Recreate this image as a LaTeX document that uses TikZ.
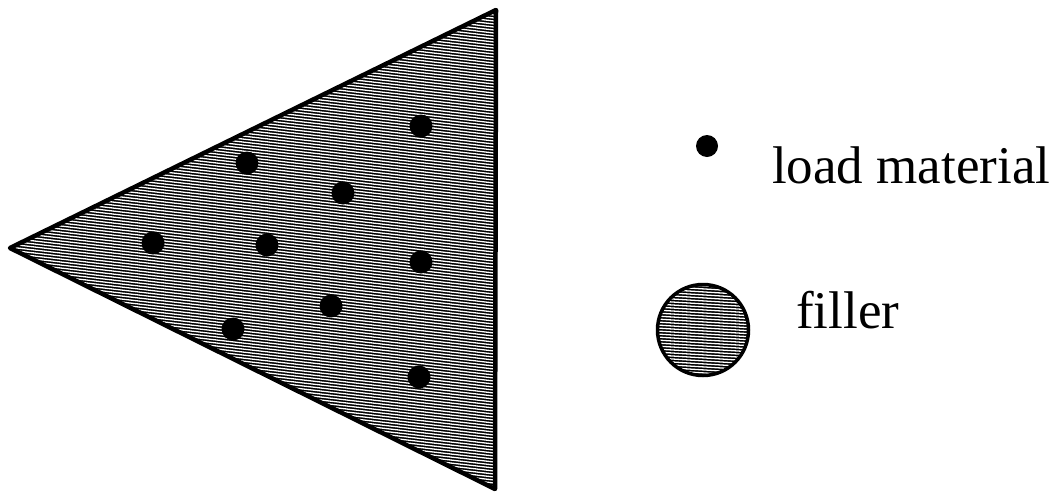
\documentclass[tikz,border=0pt]{standalone}
\usepackage{fontspec}
\setmainfont{Liberation Serif}
\begin{document}
\begin{tikzpicture}[x=1pt,y=-1pt,
  loaddot/.style={fill=black,draw=none},
  hatchline/.style={draw=white,line width=1.3pt},
  legendtext/.style={anchor=base west,inner sep=0pt,font=\fontsize{53}{60}\selectfont}]
\useasboundingbox (0,0) rectangle (1058,496);
% triangle
\coordinate (L) at (10,248);
\coordinate (T) at (496,10);
\coordinate (B) at (495,489);
\fill[black] (L) -- (T) -- (B) -- cycle;
\begin{scope}
  \clip (L) -- (T) -- (B) -- cycle;
  \foreach \k in {-40,...,180}
    \draw[hatchline] (0,3*\k) -- (520,3*\k+60);
\end{scope}
\draw[black,line width=4.5pt,line join=round] (L) -- (T) -- (B) -- cycle;
% load material dots
\foreach \x/\y [count=\i] in {421/126,247/163,343/193,153/243,267/245,421/262,331/306,233/329,419/377}
  \fill[loaddot] (\x,\y) circle (11.5);
% legend
\fill[loaddot] (707,146) circle (11);
\node[legendtext] (lm) at (772,183) {load material};
\coordinate (FC) at (703,330);
\fill[black] (FC) circle (45.5);
\begin{scope}
  \clip (FC) circle (45.5);
  \foreach \k in {80,...,130}
    \draw[hatchline] (640,3*\k) -- (770,3*\k+8);
\end{scope}
\draw[black,line width=3.5pt] (FC) circle (45.5);
\node[legendtext] (fl) at (796,328) {filler};
\end{tikzpicture}
\end{document}
